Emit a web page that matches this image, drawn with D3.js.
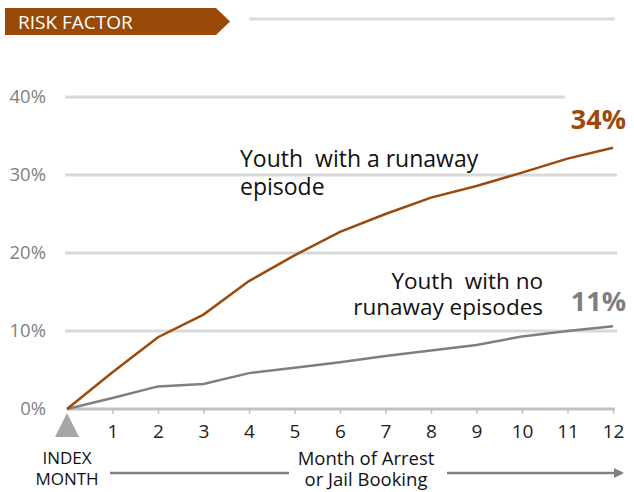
<!DOCTYPE html>
<html>
<head>
<meta charset="utf-8">
<script src="https://cdn.jsdelivr.net/npm/d3@7"></script>
<style>
  body { margin: 0; background: #fff; }
  svg text { font-family: "Open Sans", "Noto Sans", sans-serif; white-space: pre; }
</style>
</head>
<body>
<div id="chart"></div>
<script>
(function () {
	"use strict";

	var months = [0, 1, 2, 3, 4, 5, 6, 7, 8, 9, 10, 11, 12];
	var runawayValues = [0, 4.7, 9.2, 12.1, 16.4, 19.7, 22.7, 25.0, 27.1, 28.6, 30.3, 32.1, 33.5];
	var noRunawayValues = [0, 1.4, 2.9, 3.2, 4.6, 5.3, 6.0, 6.8, 7.5, 8.2, 9.3, 10.0, 10.6];
	var yTicks = [0, 10, 20, 30, 40];
	var xTickLabels = ["1", "2", "3", "4", "5", "6", "7", "8", "9", "10", "11", "12"];

	var brown = "#9c4a0c",
		gray = "#7f7f7f",
		grid = "#d9d9d9";

	var svg = d3.select("#chart").append("svg")
		.attr("width", 634)
		.attr("height", 492);

	var x = d3.scaleLinear().domain([0, 12]).range([67, 613]),
		y = d3.scaleLinear().domain([0, 40]).range([409, 97]);

	// header banner
	svg.append("path")
		.attr("d", "M5,8 L216,8 L230,21.5 L216,35 L5,35 Z")
		.attr("fill", "#994a08");
	svg.append("text")
		.attr("x", 18).attr("y", 29)
		.attr("fill", "#fff")
		.attr("font-size", 19)
		.text("RISK FACTOR");
	svg.append("line")
		.attr("x1", 249).attr("x2", 615)
		.attr("y1", 19).attr("y2", 19)
		.attr("stroke", "#dcdcdc").attr("stroke-width", 3);

	// gridlines
	svg.selectAll(".grid").data(yTicks.filter(function (d) { return d > 0; }))
		.enter().append("line")
		.attr("class", "grid")
		.attr("x1", 65)
		.attr("x2", function (d) { return d === 40 ? 565 : 617; })
		.attr("y1", function (d) { return y(d); })
		.attr("y2", function (d) { return y(d); })
		.attr("stroke", grid).attr("stroke-width", 3);

	// y labels
	svg.selectAll(".ylab").data(yTicks)
		.enter().append("text")
		.attr("class", "ylab")
		.attr("x", 46)
		.attr("y", function (d) { return y(d) + 6; })
		.attr("text-anchor", "end")
		.attr("fill", "#808080")
		.attr("font-size", 18.5)
		.text(function (d) { return d + "%"; });

	// x axis
	var xAxis = d3.axisBottom(x)
		.tickValues(months.slice(1))
		.tickSize(5)
		.tickPadding(11)
		.tickFormat(function (d, i) { return xTickLabels[i]; });
	var ax = svg.append("g")
		.attr("transform", "translate(0," + y(0) + ")")
		.call(xAxis);
	ax.select(".domain").attr("d", "M67,0H615").attr("stroke", "#c0c0c0").attr("stroke-width", 3);
	ax.selectAll(".tick line").attr("stroke", "#c0c0c0").attr("stroke-width", 1.5);
	ax.selectAll(".tick text")
		.attr("fill", "#222")
		.attr("font-size", 19)
		.attr("font-family", "\"Open Sans\", \"Noto Sans\", sans-serif");

	// index month triangle
	svg.append("path")
		.attr("d", "M" + x(0) + ",413 L" + (x(0) + 12) + ",437 L" + (x(0) - 12) + ",437 Z")
		.attr("fill", "#a6a6a6");

	// lines
	var line = d3.line()
		.x(function (d, i) { return x(months[i]); })
		.y(function (d) { return y(d); });

	svg.append("path")
		.datum(noRunawayValues)
		.attr("d", line)
		.attr("fill", "none")
		.attr("stroke", gray)
		.attr("stroke-width", 2.5);

	svg.append("path")
		.datum(runawayValues)
		.attr("d", line)
		.attr("fill", "none")
		.attr("stroke", brown)
		.attr("stroke-width", 2.5);

	// series labels
	var lab1 = svg.append("text").attr("font-size", 23).attr("fill", "#111");
	lab1.append("tspan").attr("x", 240).attr("y", 167).text("Youth  with a runaway");
	lab1.append("tspan").attr("x", 240).attr("y", 195).text("episode");

	var lab2 = svg.append("text").attr("font-size", 22.5).attr("fill", "#111").attr("text-anchor", "end");
	lab2.append("tspan").attr("x", 543).attr("y", 289).text("Youth  with no");
	lab2.append("tspan").attr("x", 543).attr("y", 315).text("runaway episodes");

	svg.append("text")
		.attr("x", 626).attr("y", 129)
		.attr("text-anchor", "end")
		.attr("font-size", 27).attr("font-weight", "bold")
		.attr("fill", brown)
		.text(d3.format(".0f")(runawayValues[12]) + "%");
	svg.append("text")
		.attr("x", 626).attr("y", 311)
		.attr("text-anchor", "end")
		.attr("font-size", 27).attr("font-weight", "bold")
		.attr("fill", gray)
		.text(d3.format(".0f")(noRunawayValues[12]) + "%");

	// bottom captions
	var idx = svg.append("text").attr("font-size", 17).attr("fill", "#111").attr("text-anchor", "middle");
	idx.append("tspan").attr("x", x(0)).attr("y", 464).text("INDEX");
	idx.append("tspan").attr("x", x(0)).attr("y", 485).text("MONTH");

	var cap = svg.append("text").attr("font-size", 18.5).attr("fill", "#111").attr("text-anchor", "middle");
	cap.append("tspan").attr("x", 366).attr("y", 465).text("Month of Arrest");
	cap.append("tspan").attr("x", 366).attr("y", 486).text("or Jail Booking");

	svg.append("defs").append("marker")
		.attr("id", "arrow")
		.attr("viewBox", "0 0 10 10")
		.attr("refX", 8).attr("refY", 5)
		.attr("markerWidth", 4).attr("markerHeight", 4)
		.attr("orient", "auto")
		.append("path").attr("d", "M0,0 L10,5 L0,10 Z").attr("fill", "#808080");

	svg.append("line")
		.attr("x1", 110).attr("x2", 289).attr("y1", 473).attr("y2", 473)
		.attr("stroke", "#808080").attr("stroke-width", 2.5);
	svg.append("line")
		.attr("x1", 447).attr("x2", 622).attr("y1", 473).attr("y2", 473)
		.attr("stroke", "#808080").attr("stroke-width", 2.5)
		.attr("marker-end", "url(#arrow)");
})();
</script>
</body>
</html>
